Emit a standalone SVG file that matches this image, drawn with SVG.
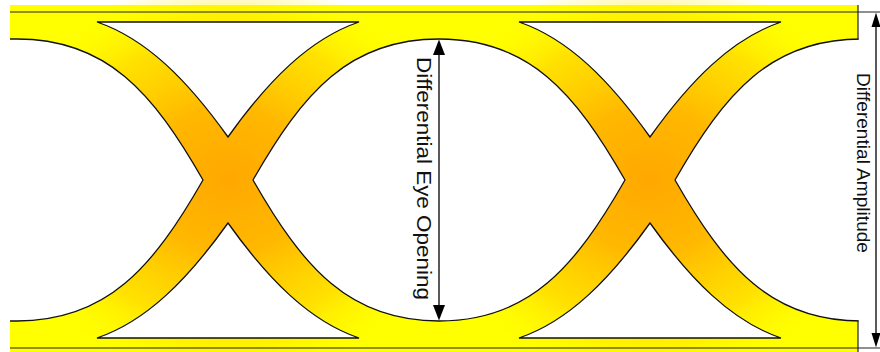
<svg xmlns="http://www.w3.org/2000/svg" width="880" height="352" viewBox="0 0 880 352">
  <defs>
    <radialGradient id="glow" cx="0.5" cy="0.5" r="0.5">
      <stop offset="0" stop-color="#FFA800" stop-opacity="1"/>
      <stop offset="0.35" stop-color="#FFB400" stop-opacity="0.95"/>
      <stop offset="0.7" stop-color="#FFCC00" stop-opacity="0.6"/>
      <stop offset="1" stop-color="#FFFF00" stop-opacity="0"/>
    </radialGradient>
    <style>
      .hole { fill: #FFFFFF; stroke: #111; stroke-width: 1.3; stroke-linejoin: miter; }
      .ext { stroke: #222; stroke-width: 1.2; fill: none; }
      .dim { stroke: #000; stroke-width: 1.3; fill: none; }
      .head { fill: #000; stroke: none; }
      .lbl { font-family: "Liberation Sans", Arial, sans-serif; fill: #111; }
    </style>
  </defs>
  <rect width="880" height="352" fill="#FFFFFF"/>

  <g id="eye-shape">
    <rect x="10" y="5" width="848" height="350" fill="#FFFF00"/>
    <ellipse cx="228" cy="180" rx="235" ry="205" fill="url(#glow)"/>
    <ellipse cx="650" cy="180" rx="235" ry="205" fill="url(#glow)"/>
    <!-- left outside region -->
    <path class="hole" d="M4,39 L17,39 C107,39 153,92.5 203,180 C153,267.5 107,321 17,321 L4,321 Z"/>
    <!-- right outside region -->
    <path class="hole" d="M866,39 L861,39 C771,39 725,92.5 675,180 C725,267.5 771,321 861,321 L866,321 Z"/>
    <!-- central eye -->
    <path class="hole" d="M253,180 C303,92.5 349,39 439,39 C529,39 575,92.5 625,180 C575,267.5 529,321 439,321 C349,321 303,267.5 253,180 Z"/>
    <!-- triangles -->
    <path class="hole" d="M97,22 C147,39 188,81 228,137 C268,81 309,39 359,22 Z"/>
    <path class="hole" d="M97,338 C147,321 188,279 228,223 C268,279 309,321 359,338 Z"/>
    <path class="hole" d="M519,22 C569,39 610,81 650,137 C690,81 731,39 781,22 Z"/>
    <path class="hole" d="M519,338 C569,321 610,279 650,223 C690,279 731,321 781,338 Z"/>
    <rect x="0" y="0" width="10" height="352" fill="#FFFFFF"/>
    <rect x="858.6" y="0" width="21.4" height="352" fill="#FFFFFF"/>
    <line x1="858" y1="5" x2="858" y2="39.5" class="ext"/>
    <line x1="858" y1="320.5" x2="858" y2="352" class="ext"/>
  </g>

  <g id="connectors">
    <line x1="10" y1="12" x2="880" y2="12" class="ext"/>
    <line x1="10" y1="348" x2="880" y2="348" class="ext"/>
    <line x1="439" y1="45" x2="439" y2="315" class="dim"/>
    <polygon class="head" points="439,39.5 433,55 445,55"/>
    <polygon class="head" points="439,320.5 433,305 445,305"/>
    <line x1="876" y1="18" x2="876" y2="342" class="dim"/>
    <polygon class="head" points="876,12.5 871.5,27 880.5,27"/>
    <polygon class="head" points="876,347.5 871.5,333 880.5,333"/>
  </g>

  <g id="label-eye-opening">
    <text class="lbl" font-size="21" transform="translate(417,57) rotate(90)" textLength="243" lengthAdjust="spacingAndGlyphs">Differential Eye Opening</text>
  </g>
  <g id="label-amplitude">
    <text class="lbl" font-size="19" transform="translate(857,73) rotate(90)" textLength="180" lengthAdjust="spacingAndGlyphs">Differential Amplitude</text>
  </g>
</svg>
